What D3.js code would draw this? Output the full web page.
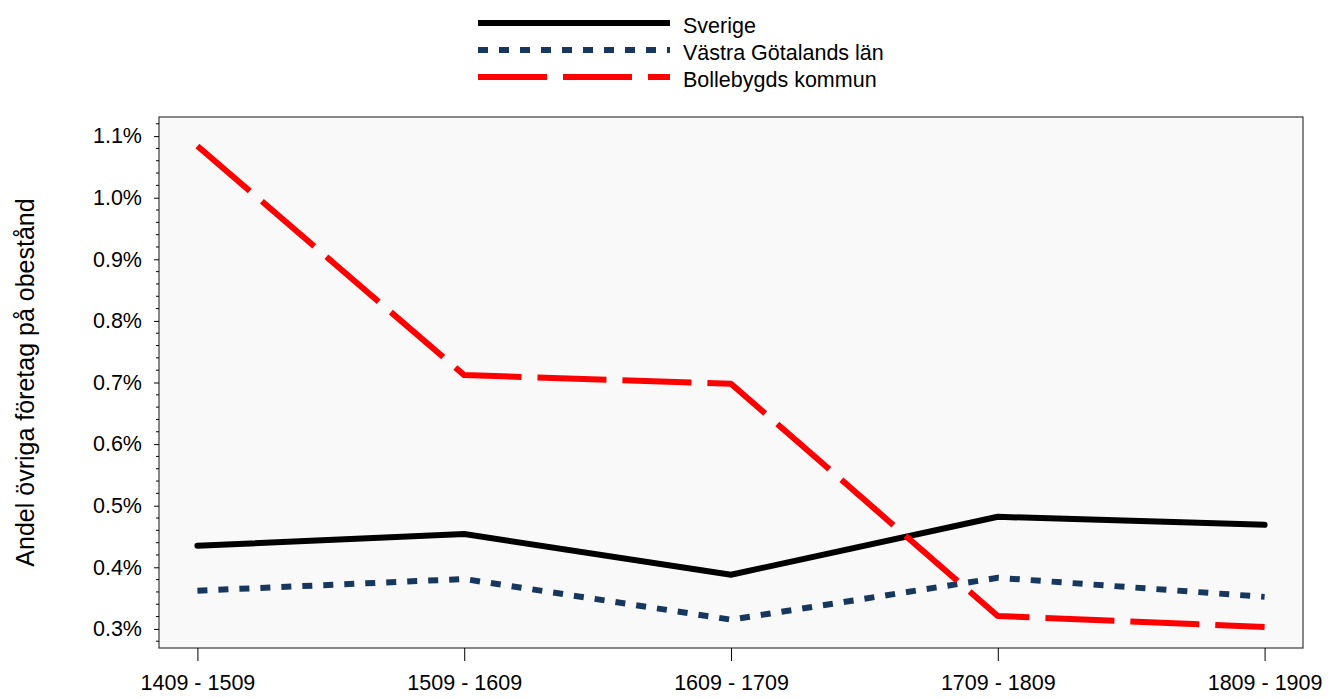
<!DOCTYPE html>
<html>
<head>
<meta charset="utf-8">
<script src="https://cdn.jsdelivr.net/npm/d3@7"></script>
<style>
  body { margin: 0; background: #fff; }
  text { font-family: "Liberation Sans", Arial, sans-serif; fill: #000; }
</style>
</head>
<body>
<script>
// periods on the x axis
const periods = ["1409 - 1509", "1509 - 1609", "1609 - 1709", "1709 - 1809", "1809 - 1909"];
// share in percent
const sverige = [0.435, 0.454, 0.388, 0.482, 0.469];
const vastraGotaland = [0.362, 0.381, 0.315, 0.383, 0.352];
const bollebygd = [1.084, 0.712, 0.698, 0.321, 0.303];
const yTicks = [0.3, 0.4, 0.5, 0.6, 0.7, 0.8, 0.9, 1.0, 1.1];
const seriesNames = ["Sverige", "Västra Götalands län", "Bollebygds kommun"];

const width = 1330, height = 698;
const margin = {left: 159, top: 117, right: 27, bottom: 50};
const plotW = width - margin.left - margin.right,
      plotH = height - margin.top - margin.bottom;

const series = [
  {name: seriesNames[0], values: sverige, color: "#000000", dash: null, cap: "round"},
  {name: seriesNames[1], values: vastraGotaland, color: "#17375e", dash: "10,11", cap: "butt"},
  {name: seriesNames[2], values: bollebygd, color: "#ff0000", dash: "69,16", cap: "butt"}
];

const svg = d3.select("body").append("svg")
  .attr("width", width).attr("height", height);

const x = d3.scalePoint().domain(periods).range([0, plotW]).padding(0.144);
const y = d3.scaleLinear().domain([0.269, 1.131]).range([plotH, 0]);

const g = svg.append("g").attr("transform", `translate(${margin.left},${margin.top})`);

// plot area
g.append("rect")
  .attr("width", plotW).attr("height", plotH)
  .attr("fill", "#f9f9f9").attr("stroke", "#3a3a3a").attr("stroke-width", 1.2);

// minor y ticks
const minor = d3.range(0.28, 1.13, 0.02).filter(v => !yTicks.some(t => Math.abs(t - v) < 1e-6));
g.append("g").selectAll("line").data(minor).join("line")
  .attr("x1", -3).attr("x2", 0)
  .attr("y1", d => y(d)).attr("y2", d => y(d))
  .attr("stroke", "#000").attr("stroke-width", 1);

// y axis
const yAxis = g.append("g")
  .call(d3.axisLeft(y).tickValues(yTicks).tickSize(5).tickPadding(12)
    .tickFormat(d => d.toFixed(1) + "%"));
yAxis.select(".domain").remove();
yAxis.selectAll("text").style("font-size", "21.5px").attr("fill", "#000");
yAxis.selectAll("line").attr("stroke", "#000");

// x axis
const xAxis = g.append("g").attr("transform", `translate(0,${plotH})`)
  .call(d3.axisBottom(x).tickSize(13).tickPadding(14));
xAxis.select(".domain").remove();
xAxis.selectAll("text").style("font-size", "21.5px").attr("fill", "#000");
xAxis.selectAll("line").attr("stroke", "#000");

// y axis title
svg.append("text")
  .attr("transform", `translate(34,${margin.top + plotH / 2}) rotate(-90)`)
  .attr("text-anchor", "middle")
  .style("font-size", "25px")
  .text("Andel övriga företag på obestånd");

// lines
const line = d3.line().x((d, i) => x(periods[i])).y(d => y(d));
g.selectAll("path.series").data(series).join("path")
  .attr("class", "series")
  .attr("d", d => line(d.values))
  .attr("fill", "none")
  .attr("stroke", d => d.color)
  .attr("stroke-width", 6)
  .attr("stroke-dasharray", d => d.dash)
  .attr("stroke-linecap", d => d.cap)
  .attr("stroke-linejoin", "round");

// legend
const legend = svg.append("g").attr("transform", "translate(478,23)");
const row = legend.selectAll("g").data(series).join("g")
  .attr("transform", (d, i) => `translate(0,${i * 27})`);
row.append("line")
  .attr("x1", 0).attr("x2", 192)
  .attr("stroke", d => d.color).attr("stroke-width", 6)
  .attr("stroke-dasharray", d => d.dash);
row.append("text")
  .attr("x", 205).attr("y", 4)
  .attr("dominant-baseline", "middle")
  .style("font-size", "21.5px")
  .text(d => d.name);
</script>
</body>
</html>
